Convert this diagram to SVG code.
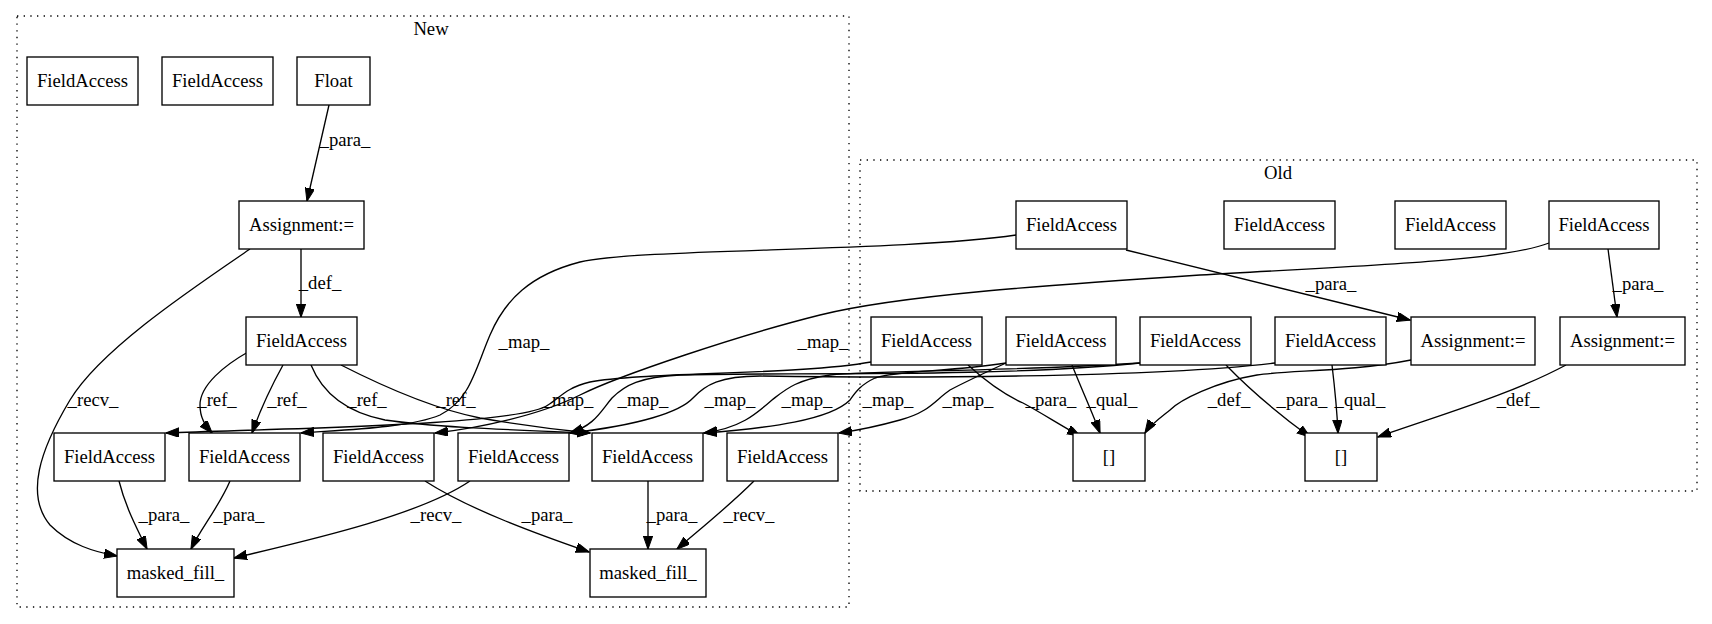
<svg xmlns="http://www.w3.org/2000/svg" width="1712" height="624" viewBox="0 0 1712 624">
<style>
text{font-family:"Liberation Serif","Times New Roman",serif;font-size:18.67px;text-anchor:middle;fill:#000}
.n rect{fill:#fff;stroke:#000;stroke-width:1.33}
.c{fill:none;stroke:#000;stroke-width:1.33;stroke-dasharray:1.33,5.33}
.e path{fill:none;stroke:#000;stroke-width:1.33;marker-end:url(#ah)}
</style>
<defs>
<marker id="ah" markerUnits="userSpaceOnUse" markerWidth="14" markerHeight="10" refX="13" refY="4.67" orient="auto">
<path d="M0,0 L13.3,4.67 L0,9.33 z" fill="#000" stroke="#000" stroke-width="1"/>
</marker>
</defs>
<rect width="1712" height="624" fill="#fff"/>
<g id="cluster_new"><rect class="c" x="17" y="16" width="832" height="591"/><text x="431" y="35">New</text></g>
<g id="cluster_old"><rect class="c" x="860" y="160" width="837" height="331"/><text x="1278" y="179">Old</text></g>

<g class="e" id="edges">
<path d="M329,105 L307,201"/>
<path d="M301,249 L301,317"/>
<path d="M250,249 C190,290 100,350 70,400 C40,450 25,495 50,525 C70,545 95,552 117,556"/>
<path d="M248,352 C225,365 200,385 200,405 C200,418 205,425 212,433"/>
<path d="M283,365 C272,385 262,405 252,433"/>
<path d="M311,365 C322,392 345,412 385,420 C440,428 520,430 590,433"/>
<path d="M341,365 C390,390 440,410 480,418 C520,425 560,430 590,433"/>
<path d="M119,481 C125,505 135,525 147,549"/>
<path d="M230,481 C220,505 200,530 191,549"/>
<path d="M425,481 C470,510 540,535 589,552"/>
<path d="M470,481 C420,515 310,540 234,558"/>
<path d="M648,481 L648,549"/>
<path d="M754,481 C730,505 705,525 677,549"/>
<path d="M1016,235 C900,252 640,248 580,262 C530,275 505,300 490,335 C475,370 470,400 440,415 C410,428 340,430 301,433"/>
<path d="M1549,243 C1500,262 1350,266 1200,275 C1050,285 900,295 820,315 C740,335 620,375 580,395 C540,415 480,428 435,433"/>
<path d="M871,362 C800,375 640,372 590,382 C565,388 560,398 548,405 C520,425 300,428 166,433"/>
<path d="M1140,363 C1000,378 760,372 680,375 C640,377 625,385 612,398 C600,412 595,425 570,433"/>
<path d="M1275,363 C1150,378 900,378 760,376 C720,376 705,385 693,398 C680,412 640,425 570,433"/>
<path d="M1140,363 C1000,372 880,370 830,375 C795,380 785,390 772,400 C755,415 740,428 704,433"/>
<path d="M1006,363 C950,372 900,370 875,378 C860,385 855,393 850,400 C830,420 770,428 704,433"/>
<path d="M1006,363 C980,375 965,382 950,390 C935,400 930,412 900,420 C875,427 860,430 839,433"/>
<path d="M1126,250 L1410,320"/>
<path d="M1608,249 L1617,317"/>
<path d="M968,365 C990,385 1005,395 1023,403 C1040,412 1060,425 1080,436"/>
<path d="M1072,365 C1082,390 1092,412 1100,433"/>
<path d="M1411,360 C1350,372 1290,370 1257,375 C1215,382 1180,400 1170,410 C1160,418 1150,425 1145,433"/>
<path d="M1226,365 C1250,390 1280,415 1310,437"/>
<path d="M1332,365 C1335,390 1337,410 1338,433"/>
<path d="M1566,365 C1510,395 1440,415 1378,437"/>
</g>

<g id="edge_labels">
<text x="345" y="146">_para_</text>
<text x="320" y="289">_def_</text>
<text x="93" y="406">_recv_</text>
<text x="217" y="406">_ref_</text>
<text x="287" y="406">_ref_</text>
<text x="367" y="406">_ref_</text>
<text x="456" y="406">_ref_</text>
<text x="164" y="521">_para_</text>
<text x="239" y="521">_para_</text>
<text x="436" y="521">_recv_</text>
<text x="547" y="521">_para_</text>
<text x="672" y="521">_para_</text>
<text x="749" y="521">_recv_</text>
<text x="524" y="348">_map_</text>
<text x="823" y="348">_map_</text>
<text x="568" y="406">_map_</text>
<text x="643" y="406">_map_</text>
<text x="730" y="406">_map_</text>
<text x="807" y="406">_map_</text>
<text x="888" y="406">_map_</text>
<text x="968" y="406">_map_</text>
<text x="1331" y="290">_para_</text>
<text x="1638" y="290">_para_</text>
<text x="1051" y="406">_para_</text>
<text x="1112" y="406">_qual_</text>
<text x="1229" y="406">_def_</text>
<text x="1302" y="406">_para_</text>
<text x="1360" y="406">_qual_</text>
<text x="1518" y="406">_def_</text>
</g>

<g class="n" id="n_fa_top1"><rect x="27" y="57" width="111" height="48"/><text x="82.5" y="87">FieldAccess</text></g>
<g class="n" id="n_fa_top2"><rect x="162" y="57" width="111" height="48"/><text x="217.5" y="87">FieldAccess</text></g>
<g class="n" id="n_float"><rect x="297" y="57" width="73" height="48"/><text x="333.5" y="87">Float</text></g>
<g class="n" id="n_assign"><rect x="239" y="201" width="125" height="48"/><text x="301.5" y="231">Assignment:=</text></g>
<g class="n" id="n_fa_mid"><rect x="246" y="317" width="111" height="48"/><text x="301.5" y="347">FieldAccess</text></g>
<g class="n" id="n_fa_a"><rect x="54" y="433" width="111" height="48"/><text x="109.5" y="463">FieldAccess</text></g>
<g class="n" id="n_fa_b"><rect x="189" y="433" width="111" height="48"/><text x="244.5" y="463">FieldAccess</text></g>
<g class="n" id="n_fa_c"><rect x="323" y="433" width="111" height="48"/><text x="378.5" y="463">FieldAccess</text></g>
<g class="n" id="n_fa_d"><rect x="458" y="433" width="111" height="48"/><text x="513.5" y="463">FieldAccess</text></g>
<g class="n" id="n_fa_e"><rect x="592" y="433" width="111" height="48"/><text x="647.5" y="463">FieldAccess</text></g>
<g class="n" id="n_fa_f"><rect x="727" y="433" width="111" height="48"/><text x="782.5" y="463">FieldAccess</text></g>
<g class="n" id="n_mf1"><rect x="117" y="549" width="117" height="48"/><text x="175.5" y="579">masked_fill_</text></g>
<g class="n" id="n_mf2"><rect x="590" y="549" width="116" height="48"/><text x="648" y="579">masked_fill_</text></g>

<g class="n" id="o_fa1"><rect x="1016" y="201" width="111" height="48"/><text x="1071.5" y="231">FieldAccess</text></g>
<g class="n" id="o_fa2"><rect x="1224" y="201" width="111" height="48"/><text x="1279.5" y="231">FieldAccess</text></g>
<g class="n" id="o_fa3"><rect x="1395" y="201" width="111" height="48"/><text x="1450.5" y="231">FieldAccess</text></g>
<g class="n" id="o_fa4"><rect x="1549" y="201" width="110" height="48"/><text x="1604" y="231">FieldAccess</text></g>
<g class="n" id="o_m1"><rect x="871" y="317" width="111" height="48"/><text x="926.5" y="347">FieldAccess</text></g>
<g class="n" id="o_m2"><rect x="1006" y="317" width="110" height="48"/><text x="1061" y="347">FieldAccess</text></g>
<g class="n" id="o_m3"><rect x="1140" y="317" width="111" height="48"/><text x="1195.5" y="347">FieldAccess</text></g>
<g class="n" id="o_m4"><rect x="1275" y="317" width="111" height="48"/><text x="1330.5" y="347">FieldAccess</text></g>
<g class="n" id="o_as1"><rect x="1411" y="317" width="124" height="48"/><text x="1473" y="347">Assignment:=</text></g>
<g class="n" id="o_as2"><rect x="1560" y="317" width="125" height="48"/><text x="1622.5" y="347">Assignment:=</text></g>
<g class="n" id="o_b1"><rect x="1073" y="433" width="72" height="48"/><text x="1109" y="463">[]</text></g>
<g class="n" id="o_b2"><rect x="1305" y="433" width="72" height="48"/><text x="1341" y="463">[]</text></g>
</svg>
